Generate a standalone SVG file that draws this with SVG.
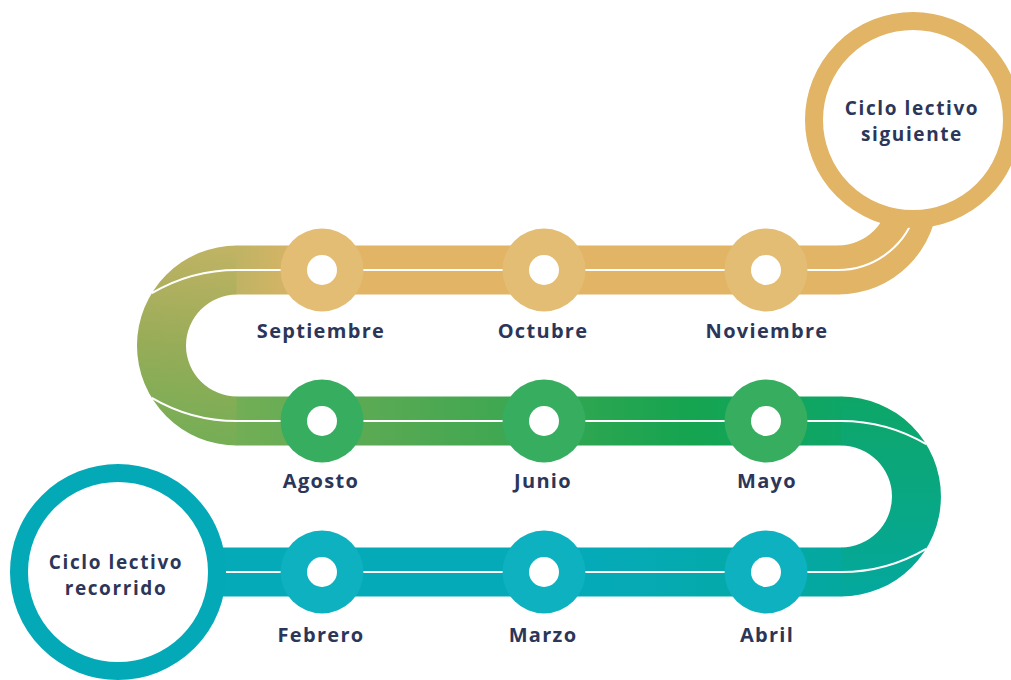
<svg xmlns="http://www.w3.org/2000/svg" width="1011" height="680" viewBox="0 0 1011 680">
<defs>
<style>
.lbl{font-family:"Open Sans","Liberation Sans",sans-serif;font-weight:700;font-size:20px;fill:#2C3659;text-anchor:middle;letter-spacing:1.3px}
.cl{font-family:"Open Sans","Liberation Sans",sans-serif;font-weight:700;font-size:19px;fill:#2C3659;text-anchor:middle;letter-spacing:1.6px}
.wl{fill:none;stroke:#FFFFFF;stroke-width:2}
.hole{fill:#FFFFFF}
.st1{fill:#E4BD74}
.st2{fill:#37AD60}
.st3{fill:#0DB1BF}
</style>
<linearGradient id="gLeft" gradientUnits="userSpaceOnUse" x1="200" y1="246" x2="180" y2="445">
<stop offset="0" stop-color="#C0B364"/>
<stop offset="0.5" stop-color="#98AC58"/>
<stop offset="1" stop-color="#72AE55"/>
</linearGradient>
<linearGradient id="gTop" gradientUnits="userSpaceOnUse" x1="237" y1="0" x2="320" y2="0">
<stop offset="0" stop-color="#C0B364"/>
<stop offset="1" stop-color="#E1B466"/>
</linearGradient>
<linearGradient id="gMid" gradientUnits="userSpaceOnUse" x1="237" y1="0" x2="841" y2="0">
<stop offset="0" stop-color="#72AE55"/>
<stop offset="0.35" stop-color="#4BA852"/>
<stop offset="0.75" stop-color="#15A450"/>
<stop offset="1" stop-color="#0EA667"/>
</linearGradient>
<linearGradient id="gRight" gradientUnits="userSpaceOnUse" x1="0" y1="397" x2="0" y2="597">
<stop offset="0" stop-color="#0EA667"/>
<stop offset="1" stop-color="#04A89E"/>
</linearGradient>
<linearGradient id="gBot" gradientUnits="userSpaceOnUse" x1="600" y1="0" x2="841" y2="0">
<stop offset="0" stop-color="#05AAB8"/>
<stop offset="1" stop-color="#04A89E"/>
</linearGradient>
</defs>
<rect width="1011" height="680" fill="#FFFFFF"/>

<g id="connectors">
<path d="M237 245.5 A100 100 0 0 0 237 445.5 L237 396.5 A51 51 0 0 1 237 294.5 Z" fill="url(#gLeft)"/>
<rect x="236.5" y="245.5" width="602" height="49" fill="url(#gTop)"/>
<path d="M838 294.5 A100 100 0 0 0 938 194.5 L889 194.5 A51 51 0 0 1 838 245.5 Z" fill="#E1B466"/>
<rect x="236.5" y="396.5" width="605" height="49" fill="url(#gMid)"/>
<path d="M841 396.5 A100 100 0 0 1 841 596.5 L841 547.5 A51 51 0 0 0 841 445.5 Z" fill="url(#gRight)"/>
<rect x="118" y="547.5" width="723.5" height="49" fill="url(#gBot)"/>
<path class="wl" d="M151.8 293.2 A168 168 0 0 1 237 270 L838 270 A81 81 0 0 0 914.1 216.7"/>
<path class="wl" d="M151.8 397.8 A168 168 0 0 0 237 421 L841 421 A168 168 0 0 1 926.2 444.2"/>
<path class="wl" d="M926.2 548.8 A168 168 0 0 1 841 572 L200 572"/>
</g>

<g id="circle-siguiente">
<circle cx="913" cy="120" r="99" fill="#FFFFFF" stroke="#E1B466" stroke-width="18"/>
<text class="cl" x="912" y="115">Ciclo lectivo</text>
<text class="cl" x="912" y="141">siguiente</text>
</g>
<g id="circle-recorrido">
<circle cx="118" cy="572" r="99" fill="#FFFFFF" stroke="#04A9B8" stroke-width="18"/>
<text class="cl" x="116" y="569">Ciclo lectivo</text>
<text class="cl" x="116" y="595">recorrido</text>
</g>

<g id="node-septiembre"><circle class="st1" cx="322" cy="270" r="41.5"/><circle class="hole" cx="322" cy="270" r="15"/><text class="lbl" x="321" y="338">Septiembre</text></g>
<g id="node-octubre"><circle class="st1" cx="544" cy="270" r="41.5"/><circle class="hole" cx="544" cy="270" r="15"/><text class="lbl" x="543" y="338">Octubre</text></g>
<g id="node-noviembre"><circle class="st1" cx="766" cy="270" r="41.5"/><circle class="hole" cx="766" cy="270" r="15"/><text class="lbl" x="767" y="338">Noviembre</text></g>

<g id="node-agosto"><circle class="st2" cx="322" cy="421" r="41.5"/><circle class="hole" cx="322" cy="421" r="15"/><text class="lbl" x="321" y="488">Agosto</text></g>
<g id="node-junio"><circle class="st2" cx="544" cy="421" r="41.5"/><circle class="hole" cx="544" cy="421" r="15"/><text class="lbl" x="543" y="488">Junio</text></g>
<g id="node-mayo"><circle class="st2" cx="766" cy="421" r="41.5"/><circle class="hole" cx="766" cy="421" r="15"/><text class="lbl" x="767" y="488">Mayo</text></g>

<g id="node-febrero"><circle class="st3" cx="322" cy="572" r="41.5"/><circle class="hole" cx="322" cy="572" r="15"/><text class="lbl" x="321" y="642">Febrero</text></g>
<g id="node-marzo"><circle class="st3" cx="544" cy="572" r="41.5"/><circle class="hole" cx="544" cy="572" r="15"/><text class="lbl" x="543" y="642">Marzo</text></g>
<g id="node-abril"><circle class="st3" cx="766" cy="572" r="41.5"/><circle class="hole" cx="766" cy="572" r="15"/><text class="lbl" x="767" y="642">Abril</text></g>
</svg>
